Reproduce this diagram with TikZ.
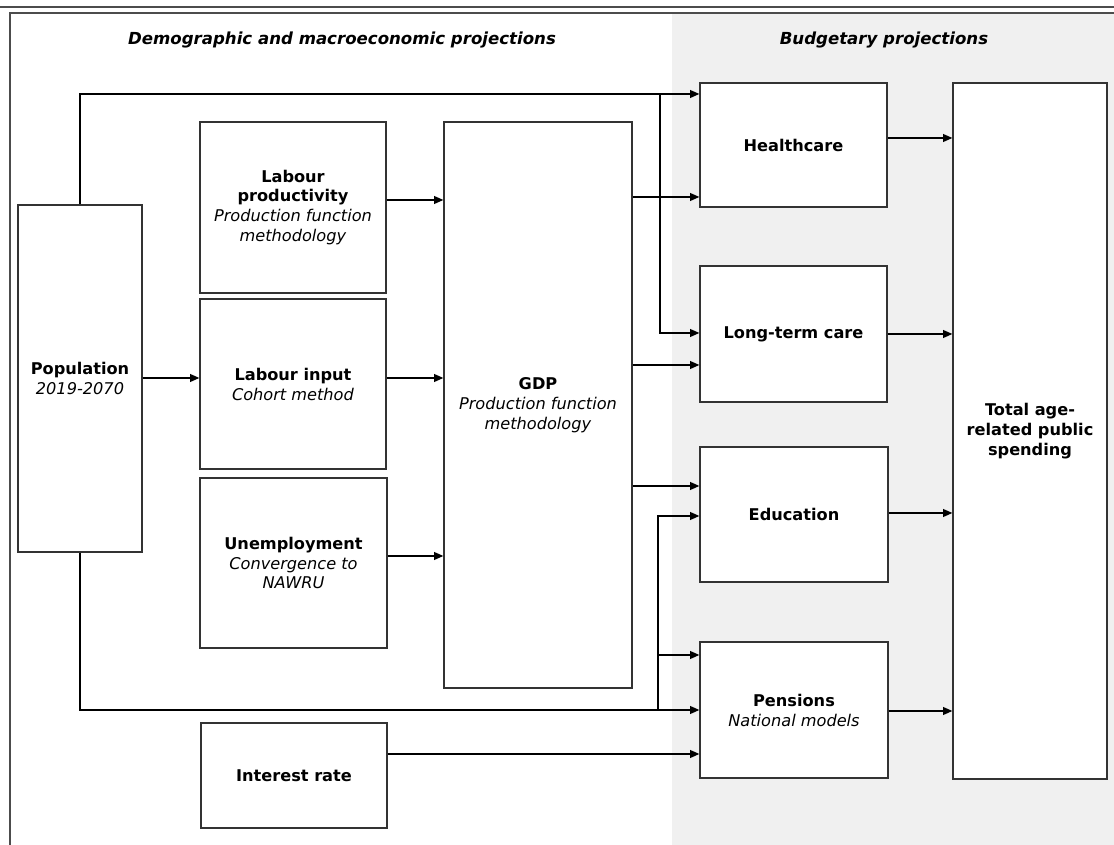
\documentclass[tikz,border=0pt]{standalone}
\usepackage{fontspec}
\setmainfont{DejaVu Sans}
\usetikzlibrary{arrows.meta}

\newcommand{\boxtitle}[1]{\textbf{#1}}
\newcommand{\boxnote}[1]{\textit{#1}}

\tikzset{
  box/.style={draw=black!80, line width=0.9pt, fill=white, align=center,
    inner sep=2pt, font=\fontsize{11.5}{14.2}\selectfont},
  boxsize/.style 2 args={minimum width=#1*0.025cm, minimum height=#2*0.025cm},
  flow/.style={line width=0.9pt, -{Triangle[length=6.5pt,width=5.5pt]}},
  heading/.style={font=\fontsize{11.8}{14}\selectfont\bfseries\itshape},
}

\begin{document}
\begin{tikzpicture}[x=0.025cm, y=-0.025cm]
  \useasboundingbox (0,0) rectangle (1114,845);
  % frame and shaded budget side
  \fill[black!6] (672,13) rectangle (1114,845);
  \draw[black!70, line width=0.8pt] (0,7) -- (1114,7);
  \draw[black!70, line width=0.8pt] (10,845) -- (10,13) -- (1114,13);
  \node[heading] (demo) at (342,40) {Demographic and macroeconomic projections};
  \node[heading] (budg) at (884,40) {Budgetary projections};

  % left side
  \node[box, boxsize={124}{347}] (pop) at (80,378.5)
    {\boxtitle{Population}\\\boxnote{2019-2070}};
  \node[box, boxsize={186}{171}] (prod) at (293,207.5)
    {\boxtitle{Labour}\\\boxtitle{productivity}\\\boxnote{Production function}\\\boxnote{methodology}};
  \node[box, boxsize={186}{170}] (inp) at (293,384)
    {\boxtitle{Labour input}\\\boxnote{Cohort method}};
  \node[box, boxsize={187}{170}] (unemp) at (293.5,563)
    {\boxtitle{Unemployment}\\\boxnote{Convergence to}\\\boxnote{NAWRU}};
  \node[box, boxsize={188}{566}] (gdp) at (538,405)
    {\boxtitle{GDP}\\\boxnote{Production function}\\\boxnote{methodology}};
  \node[box, boxsize={186}{105}] (rate) at (294,775.5)
    {\boxtitle{Interest rate}};

  % right side
  \node[box, boxsize={187}{124}] (health) at (793.5,145) {\boxtitle{Healthcare}};
  \node[box, boxsize={187}{136}] (ltc) at (793.5,334) {\boxtitle{Long-term care}};
  \node[box, boxsize={188}{135}] (edu) at (794,514.5) {\boxtitle{Education}};
  \node[box, boxsize={188}{136}] (pens) at (794,710)
    {\boxtitle{Pensions}\\\boxnote{National models}};
  \node[box, boxsize={154}{696}] (total) at (1030,431)
    {\boxtitle{Total age-}\\\boxtitle{related public}\\\boxtitle{spending}};

  \coordinate (jtop) at (660,94);
  \coordinate (jbot) at (658,710);

  \begin{scope}[flow]
    % population feeds
    \draw (pop.north) |- (health.west |- jtop);
    \draw (jtop) |- (ltc.west |- 0,333);
    \draw (pop.south) |- (pens.west |- jbot);
    \draw (jbot) |- (edu.west |- 0,516);
    \draw (jbot |- 0,655) -- (pens.west |- 0,655);
    \draw (pop.east |- 0,378) -- (inp.west |- 0,378);
    % into GDP
    \draw (prod.east |- 0,200) -- (gdp.west |- 0,200);
    \draw (inp.east |- 0,378) -- (gdp.west |- 0,378);
    \draw (unemp.east |- 0,556) -- (gdp.west |- 0,556);
    % GDP to budget items
    \draw (gdp.east |- 0,197) -- (health.west |- 0,197);
    \draw (gdp.east |- 0,365) -- (ltc.west |- 0,365);
    \draw (gdp.east |- 0,486) -- (edu.west |- 0,486);
    \draw (rate.east |- 0,754) -- (pens.west |- 0,754);
    % into total
    \draw (health.east |- 0,138) -- (total.west |- 0,138);
    \draw (ltc.east) -- (ltc.east -| total.west);
    \draw (edu.east |- 0,513) -- (total.west |- 0,513);
    \draw (pens.east |- 0,711) -- (total.west |- 0,711);
  \end{scope}
\end{tikzpicture}
\end{document}
